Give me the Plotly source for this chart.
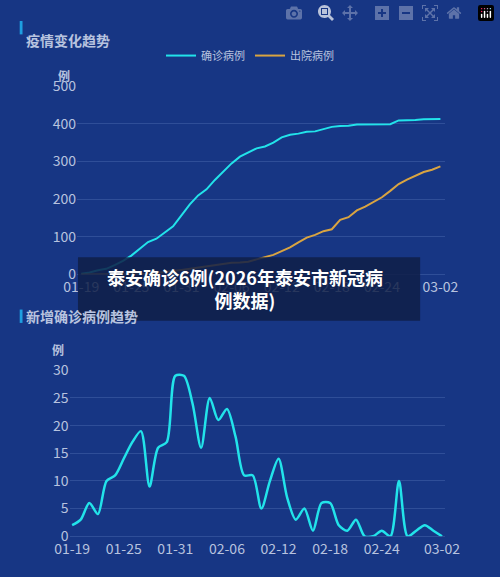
import plotly.graph_objects as go
import pandas as pd

dates = pd.date_range("2020-01-19", "2020-03-02").strftime("%m-%d").tolist()
tick_labels = ["01-19", "01-25", "01-31", "02-06", "02-12", "02-18", "02-24", "03-02"]

confirmed = [2, 5, 11, 15, 25, 36, 50, 67, 86, 95, 111, 128, 157, 186, 210, 226, 251, 272,
             295, 313, 324, 335, 340, 350, 364, 371, 374, 379, 380, 386, 392, 394, 395, 398,
             398, 398, 399, 399, 409, 409, 410, 412, 413, 413]
discharged = [0, 0, 0, 0, 0, 0, 0, 1, 2, 4, 6, 9, 12, 15, 18, 22, 26, 29, 31, 32, 34, 40,
              46, 52, 62, 72, 85, 98, 105, 115, 120, 145, 152, 170, 180, 192, 205, 222, 240,
              252, 262, 272, 278, 287]
new_cases = [2, 3, 6, 4, 10, 11, 14, 17, 19, 9, 16, 17, 29, 29, 24, 16, 25, 21, 23, 18, 11,
             11, 5, 10, 14, 7, 3, 5, 1, 6, 6, 2, 1, 3, 0, 0, 1, 0, 10, 0, 1, 2, 1, 0]

bg = "#173684"
txt = "#b7c3df"
grid = "rgba(120,150,210,0.25)"

fig = go.Figure()
fig.add_trace(go.Scatter(x=dates, y=confirmed, name="确诊病例", mode="lines",
                         line=dict(color="#22e3ea", width=2), xaxis="x", yaxis="y"))
fig.add_trace(go.Scatter(x=dates, y=discharged, name="出院病例", mode="lines",
                         line=dict(color="#d9a441", width=2), xaxis="x", yaxis="y"))
fig.add_trace(go.Scatter(x=dates, y=new_cases, name="新增", mode="lines", showlegend=False,
                         line=dict(color="#22e3ea", width=2.5, shape="spline", smoothing=0.8),
                         xaxis="x2", yaxis="y2"))

axis_font = dict(color=txt, size=14, family="Noto Sans CJK SC")
fig.update_layout(
    width=500, height=577, paper_bgcolor=bg, plot_bgcolor=bg,
    margin=dict(l=0, r=0, t=0, b=0),
    font=dict(family="Noto Sans CJK SC", color=txt),
    legend=dict(orientation="h", x=0.5, xanchor="center", y=0.92, yanchor="middle",
                font=dict(size=11, color=txt), bgcolor="rgba(0,0,0,0)"),
    xaxis=dict(domain=[0.132, 0.914], type="category", tickvals=tick_labels,
               showgrid=False, showline=True, linecolor=grid, tickfont=axis_font,
               anchor="y", range=[-0.5, 43.5]),
    yaxis=dict(domain=[0.527, 0.865], range=[0, 500], dtick=100, gridcolor=grid,
               zeroline=False, tickfont=axis_font, anchor="x"),
    xaxis2=dict(domain=[0.116, 0.914], type="category", tickvals=tick_labels,
                showgrid=False, showline=True, linecolor=grid, tickfont=axis_font,
                anchor="y2", range=[-0.3, 43.3]),
    yaxis2=dict(domain=[0.057, 0.355], range=[0, 30], dtick=5, gridcolor=grid,
                zeroline=False, tickfont=axis_font, anchor="x2"),
)

fig.add_annotation(x=0.02, y=0.97, xref="paper", yref="paper", text="<b>疫情变化趋势</b>",
                   showarrow=False, xanchor="left", font=dict(size=14, color=txt))
fig.add_annotation(x=0.02, y=0.452, xref="paper", yref="paper", text="<b>新增确诊病例趋势</b>",
                   showarrow=False, xanchor="left", font=dict(size=14, color=txt))
fig.add_annotation(x=0.088, y=0.903, xref="paper", yref="paper", text="<b>例</b>",
                   showarrow=False, font=dict(size=12, color=txt))
fig.add_annotation(x=0.075, y=0.393, xref="paper", yref="paper", text="<b>例</b>",
                   showarrow=False, font=dict(size=12, color=txt))
fig.add_shape(type="rect", xref="paper", yref="paper", x0=0.01, x1=0.016, y0=0.958, y1=0.982,
              fillcolor="#1e9fe0", line_width=0)
fig.add_shape(type="rect", xref="paper", yref="paper", x0=0.01, x1=0.016, y0=0.44, y1=0.464,
              fillcolor="#1e9fe0", line_width=0)

# headline banner
fig.add_shape(type="rect", xref="paper", yref="paper", x0=0.134, x1=0.862, y0=0.444, y1=0.558,
              fillcolor="rgba(15,30,70,0.85)", line_width=0)
fig.add_annotation(x=0.49, y=0.501, xref="paper", yref="paper",
                   text="<b>泰安确诊6例(2026年泰安市新冠病<br>例数据)</b>", showarrow=False,
                   font=dict(size=18, color="white"), align="center")

fig.write_html("out.html", post_script="document.body.style.margin='0';")
